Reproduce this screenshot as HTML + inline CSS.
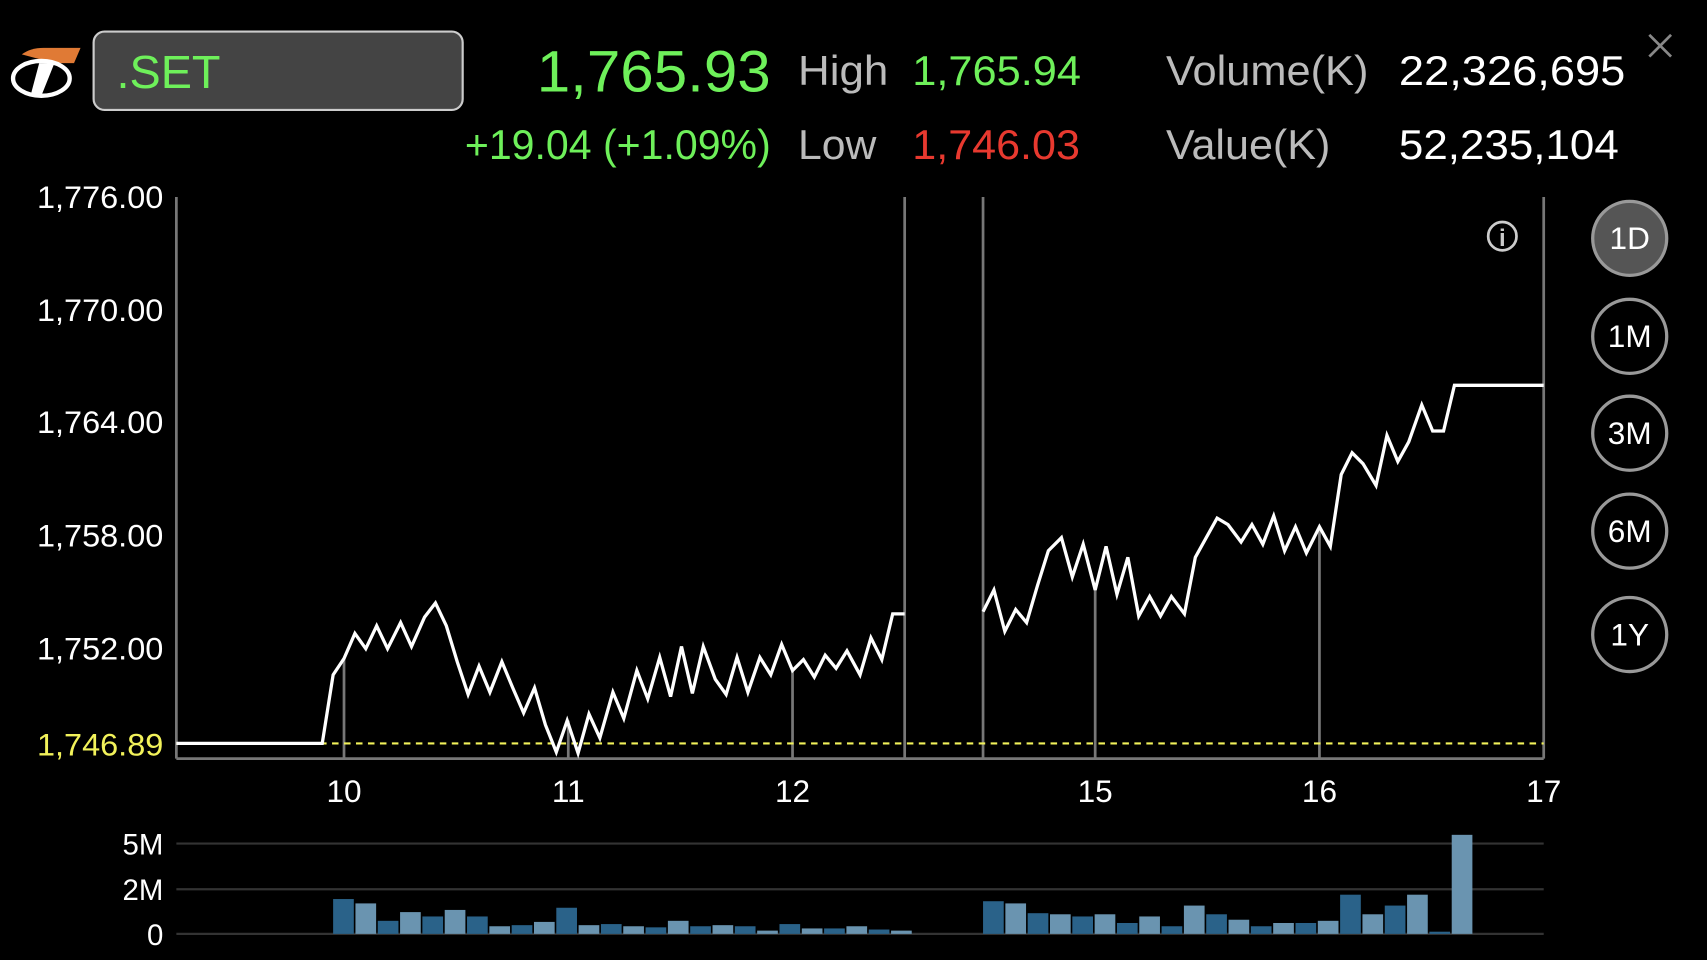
<!DOCTYPE html>
<html><head><meta charset="utf-8"><style>
html,body{margin:0;padding:0;background:#000;width:1707px;height:960px;overflow:hidden}
svg{display:block}
text{font-family:"Liberation Sans",sans-serif}
</style></head><body>
<svg width="1707" height="960" viewBox="0 0 1568 882" preserveAspectRatio="none">
<rect width="1568" height="882" fill="#000"/>
<!-- logo -->
<path d="M20 50 Q28 44 40 44 L74 44 L68 58 L50 58 Z" fill="#e07a35"/>
<ellipse cx="38" cy="72" rx="26" ry="16" fill="none" stroke="#fff" stroke-width="4"/>
<path d="M36 58 L50 58 L38 88 L28 88 Z" fill="#fff"/>
<!-- symbol box -->
<rect x="86" y="29" width="339" height="72" rx="10" fill="#444" stroke="#ccc" stroke-width="2"/>
<text x="107" y="81" font-size="43" fill="#6ef05a">.SET</text>
<text x="493" y="84" font-size="54" fill="#6ef05a" textLength="215" lengthAdjust="spacingAndGlyphs">1,765.93</text>
<text x="733" y="78" font-size="38" fill="#bbb" textLength="83" lengthAdjust="spacingAndGlyphs">High</text>
<text x="838" y="78" font-size="38" fill="#6ef05a" textLength="155" lengthAdjust="spacingAndGlyphs">1,765.94</text>
<text x="1071" y="78" font-size="38" fill="#bbb" textLength="186" lengthAdjust="spacingAndGlyphs">Volume(K)</text>
<text x="1285" y="78" font-size="38" fill="#fff" textLength="208" lengthAdjust="spacingAndGlyphs">22,326,695</text>
<text x="427" y="146" font-size="38" fill="#6ef05a" textLength="281" lengthAdjust="spacingAndGlyphs">+19.04 (+1.09%)</text>
<text x="733" y="146" font-size="38" fill="#bbb" textLength="72" lengthAdjust="spacingAndGlyphs">Low</text>
<text x="838" y="146" font-size="38" fill="#e8392f" textLength="154" lengthAdjust="spacingAndGlyphs">1,746.03</text>
<text x="1071" y="146" font-size="38" fill="#bbb" textLength="151" lengthAdjust="spacingAndGlyphs">Value(K)</text>
<text x="1285" y="146" font-size="38" fill="#fff" textLength="202" lengthAdjust="spacingAndGlyphs">52,235,104</text>
<path d="M1515 32 L1535 52 M1535 32 L1515 52" stroke="#888" stroke-width="2.5"/>
<!-- y labels -->
<g font-size="29" fill="#fff">
<text x="34" y="191" textLength="116" lengthAdjust="spacingAndGlyphs">1,776.00</text>
<text x="34" y="295" textLength="116" lengthAdjust="spacingAndGlyphs">1,770.00</text>
<text x="34" y="398" textLength="116" lengthAdjust="spacingAndGlyphs">1,764.00</text>
<text x="34" y="502" textLength="116" lengthAdjust="spacingAndGlyphs">1,758.00</text>
<text x="34" y="606" textLength="116" lengthAdjust="spacingAndGlyphs">1,752.00</text>
<text x="34" y="694" fill="#f2f25a" textLength="116" lengthAdjust="spacingAndGlyphs">1,746.89</text>
</g>
<!-- axes & grid -->
<g stroke="#777" stroke-width="2.5">
<line x1="162" y1="181" x2="162" y2="697"/>
<line x1="1418" y1="181" x2="1418" y2="697"/>
<line x1="831" y1="181" x2="831" y2="697"/>
<line x1="903" y1="181" x2="903" y2="697"/>
<line x1="162" y1="697" x2="1418" y2="697"/>
<line x1="316" y1="605" x2="316" y2="697"/>
<line x1="522" y1="662" x2="522" y2="697"/>
<line x1="728" y1="616" x2="728" y2="697"/>
<line x1="1006" y1="542" x2="1006" y2="697"/>
<line x1="1212" y1="484" x2="1212" y2="697"/>
</g>
<line x1="162" y1="683" x2="1418" y2="683" stroke="#f2f25a" stroke-width="2" stroke-dasharray="6,5"/>
<g font-size="29" fill="#fff" text-anchor="middle">
<text x="316" y="737">10</text><text x="522" y="737">11</text><text x="728" y="737">12</text>
<text x="1006" y="737">15</text><text x="1212" y="737">16</text><text x="1418" y="737">17</text>
</g>
<!-- price -->
<g fill="none" stroke="#fff" stroke-width="3" stroke-linejoin="miter">
<polyline points="162,683 296,683 306,620 316,605 326,582 336,596 346,575 356,596 368,572 378,594 390,567 400,554 410,575 420,608 430,638 440,612 450,636 461,608 471,632 481,655 491,632 501,666 511,691 521,662 531,692 541,656 551,678 563,636 573,660 585,616 595,642 606,604 616,640 626,594 636,637 646,594 657,624 667,638 677,604 687,636 698,604 708,620 718,592 728,616 738,606 748,622 758,602 768,614 778,598 790,620 800,586 810,606 820,564 831,564"/>
<polyline points="903,562 913,542 923,580 933,560 943,572 953,538 963,506 975,494 985,530 995,500 1006,542 1016,502 1026,546 1036,512 1046,566 1056,548 1066,566 1076,548 1088,564 1098,512 1108,494 1118,476 1128,482 1140,498 1150,482 1160,500 1170,474 1180,506 1190,484 1200,508 1212,484 1222,502 1232,436 1242,416 1252,426 1264,446 1274,400 1284,424 1294,406 1306,372 1316,396 1326,396 1336,354 1418,354"/>
</g>
<!-- info -->
<circle cx="1380" cy="217" r="13" fill="none" stroke="#ccc" stroke-width="2.5"/>
<text x="1380" y="226" font-size="22" fill="#ccc" text-anchor="middle" font-family="Liberation Serif" font-weight="bold">i</text>
<!-- buttons -->
<g stroke="#999" stroke-width="3" fill="none">
<circle cx="1497" cy="219" r="34" fill="#555"/>
<circle cx="1497" cy="309" r="34"/><circle cx="1497" cy="398" r="34"/>
<circle cx="1497" cy="488" r="34"/><circle cx="1497" cy="583" r="34"/>
</g>
<g font-size="29" fill="#fff" text-anchor="middle">
<text x="1497" y="229">1D</text><text x="1497" y="319">1M</text><text x="1497" y="408">3M</text>
<text x="1497" y="498">6M</text><text x="1497" y="593">1Y</text>
</g>
<!-- volume -->
<g stroke="#333" stroke-width="2">
<line x1="162" y1="775" x2="1418" y2="775"/><line x1="162" y1="817" x2="1418" y2="817"/><line x1="162" y1="858" x2="1418" y2="858"/>
</g>
<g font-size="27" fill="#fff" text-anchor="end">
<text x="150" y="785">5M</text><text x="150" y="827">2M</text><text x="150" y="868">0</text>
</g>
<g id="bars"></g>
<script>
var g=document.getElementById('bars'),ns='http://www.w3.org/2000/svg';
function draw(x0,tops){tops.forEach(function(t,i){var r=document.createElementNS(ns,'rect');r.setAttribute('x',x0+i*20.5);r.setAttribute('y',t);r.setAttribute('width',19);r.setAttribute('height',858-t);r.setAttribute('fill',i%2?'#6a94b0':'#2a6289');g.appendChild(r);});}
draw(306,[826,830,846,838,842,836,842,851,850,847,834,850,849,851,852,846,851,850,851,855,849,853,853,851,854,855]);
draw(903,[828,830,839,840,842,840,848,842,851,832,840,845,851,848,848,846,822,840,832,822,856,767]);
</script>
</svg>
</body></html>
